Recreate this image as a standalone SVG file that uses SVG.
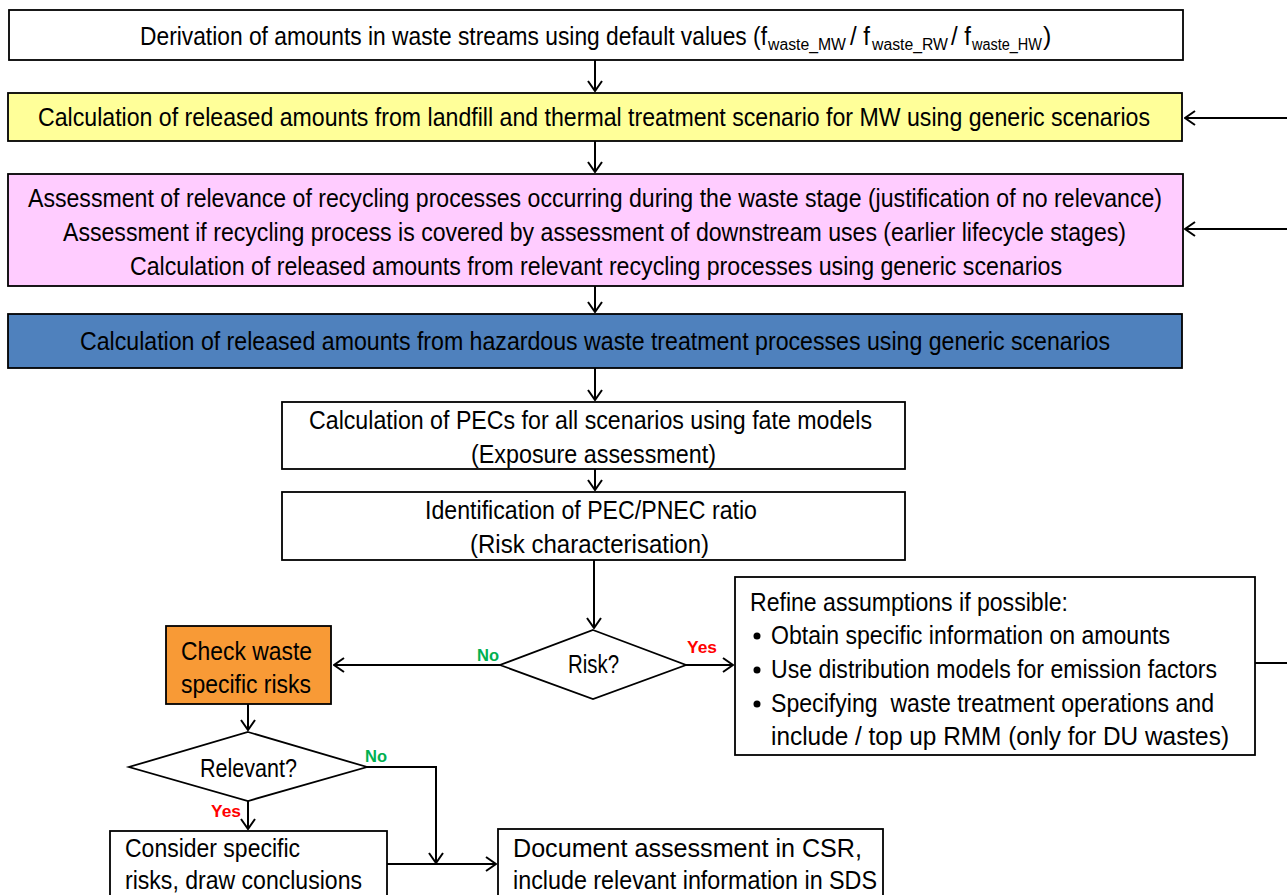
<svg xmlns="http://www.w3.org/2000/svg" width="1287" height="895" viewBox="0 0 1287 895">
<style>
.box{stroke:#000;stroke-width:1.8;}
.t{font-family:"Liberation Sans",Arial,sans-serif;font-size:25px;fill:#000;}
.sub{font-size:16px;}
.lbl{font-family:"Liberation Sans",Arial,sans-serif;font-size:17px;font-weight:bold;}
.no{fill:#00B050;}
.yes{fill:#FF0000;}
.conn{stroke:#000;stroke-width:2;fill:none;}
</style>
<defs>
<marker id="arr" markerUnits="userSpaceOnUse" viewBox="0 0 12 16" refX="11" refY="8" markerWidth="12" markerHeight="16" orient="auto">
<path d="M1,1 L11,8 L1,15" fill="none" stroke="#000" stroke-width="2"/>
</marker>
</defs>
<rect width="1287" height="895" fill="#fff"/>

<g id="connectors">
<line class="conn" x1="595" y1="60" x2="595" y2="91" marker-end="url(#arr)"/>
<line class="conn" x1="595" y1="141" x2="595" y2="172" marker-end="url(#arr)"/>
<line class="conn" x1="595" y1="286" x2="595" y2="312" marker-end="url(#arr)"/>
<line class="conn" x1="595" y1="368" x2="595" y2="400" marker-end="url(#arr)"/>
<line class="conn" x1="595" y1="469" x2="595" y2="490" marker-end="url(#arr)"/>
<line class="conn" x1="594" y1="560" x2="594" y2="628" marker-end="url(#arr)"/>
<line class="conn" x1="1287" y1="118" x2="1185" y2="118" marker-end="url(#arr)"/>
<line class="conn" x1="1287" y1="229" x2="1185" y2="229" marker-end="url(#arr)"/>
<line class="conn" x1="1255" y1="663" x2="1287" y2="663"/>
<line class="conn" x1="500" y1="665" x2="334" y2="665" marker-end="url(#arr)"/>
<line class="conn" x1="686" y1="665" x2="733" y2="665" marker-end="url(#arr)"/>
<line class="conn" x1="248" y1="704" x2="248" y2="730" marker-end="url(#arr)"/>
<polyline class="conn" points="367,767 436,767 436,863" marker-end="url(#arr)"/>
<line class="conn" x1="248" y1="801" x2="248" y2="829" marker-end="url(#arr)"/>
<line class="conn" x1="387" y1="864" x2="496" y2="864" marker-end="url(#arr)"/>
<text class="lbl no" x="477" y="661" textLength="22" lengthAdjust="spacingAndGlyphs">No</text>
<text class="lbl yes" x="687" y="653" textLength="30" lengthAdjust="spacingAndGlyphs">Yes</text>
<text class="lbl no" x="365" y="762" textLength="22" lengthAdjust="spacingAndGlyphs">No</text>
<text class="lbl yes" x="211" y="817" textLength="30" lengthAdjust="spacingAndGlyphs">Yes</text>
</g>

<g id="n1">
<rect class="box" x="9" y="10" width="1174" height="50" fill="#fff"/>
<text class="t"><tspan x="140" y="45" textLength="627" lengthAdjust="spacingAndGlyphs">Derivation of amounts in waste streams using default values (f</tspan><tspan class="sub" x="768" y="50" textLength="78" lengthAdjust="spacingAndGlyphs">waste_MW</tspan><tspan x="850" y="45" textLength="20" lengthAdjust="spacingAndGlyphs">/ f</tspan><tspan class="sub" x="872" y="50" textLength="76" lengthAdjust="spacingAndGlyphs">waste_RW</tspan><tspan x="951" y="45" textLength="20" lengthAdjust="spacingAndGlyphs">/ f</tspan><tspan class="sub" x="972" y="50" textLength="70" lengthAdjust="spacingAndGlyphs">waste_HW</tspan><tspan x="1043" y="45">)</tspan></text>
</g>

<g id="n2">
<rect class="box" x="8" y="93" width="1174" height="48" fill="#FFFF99"/>
<text class="t" x="38" y="126" textLength="1112" lengthAdjust="spacingAndGlyphs">Calculation of released amounts from landfill and thermal treatment scenario for MW using generic scenarios</text>
</g>

<g id="n3">
<rect class="box" x="8" y="174" width="1175" height="112" fill="#FFCCFF"/>
<text class="t" x="28" y="207" textLength="1134" lengthAdjust="spacingAndGlyphs">Assessment of relevance of recycling processes occurring during the waste stage (justification of no relevance)</text>
<text class="t" x="63" y="241" textLength="1063" lengthAdjust="spacingAndGlyphs">Assessment if recycling process is covered by assessment of downstream uses (earlier lifecycle stages)</text>
<text class="t" x="130" y="275" textLength="932" lengthAdjust="spacingAndGlyphs">Calculation of released amounts from relevant recycling processes using generic scenarios</text>
</g>

<g id="n4">
<rect class="box" x="8" y="314" width="1174" height="54" fill="#4F81BD"/>
<text class="t" x="80" y="350" textLength="1030" lengthAdjust="spacingAndGlyphs">Calculation of released amounts from hazardous waste treatment processes using generic scenarios</text>
</g>

<g id="n5">
<rect class="box" x="282" y="402" width="623" height="67" fill="#fff"/>
<text class="t" x="309" y="429" textLength="563" lengthAdjust="spacingAndGlyphs">Calculation of PECs for all scenarios using fate models</text>
<text class="t" x="471" y="463" textLength="245" lengthAdjust="spacingAndGlyphs">(Exposure assessment)</text>
</g>

<g id="n6">
<rect class="box" x="282" y="492" width="623" height="68" fill="#fff"/>
<text class="t" x="425" y="519" textLength="332" lengthAdjust="spacingAndGlyphs">Identification of PEC/PNEC ratio</text>
<text class="t" x="470" y="553" textLength="239" lengthAdjust="spacingAndGlyphs">(Risk characterisation)</text>
</g>

<g id="n7">
<polygon class="box" points="593,630 686,665 593,699 500,665" fill="#fff"/>
<text class="t" x="568" y="673" textLength="51" lengthAdjust="spacingAndGlyphs">Risk?</text>
</g>

<g id="n8">
<rect class="box" x="735" y="577" width="520" height="178" fill="#fff"/>
<text class="t" x="750" y="611" textLength="318" lengthAdjust="spacingAndGlyphs">Refine assumptions if possible:</text>
<circle cx="757" cy="636" r="3.5" fill="#000"/>
<text class="t" x="771" y="644" textLength="399" lengthAdjust="spacingAndGlyphs">Obtain specific information on amounts</text>
<circle cx="757" cy="670" r="3.5" fill="#000"/>
<text class="t" x="771" y="678" textLength="446" lengthAdjust="spacingAndGlyphs">Use distribution models for emission factors</text>
<circle cx="757" cy="704" r="3.5" fill="#000"/>
<text class="t" x="771" y="712" textLength="443" lengthAdjust="spacingAndGlyphs" xml:space="preserve">Specifying  waste treatment operations and</text>
<text class="t" x="771" y="745" textLength="458" lengthAdjust="spacingAndGlyphs">include / top up RMM (only for DU wastes)</text>
</g>

<g id="n9">
<rect class="box" x="166" y="626" width="165" height="78" fill="#F89A36"/>
<text class="t" x="181" y="660" textLength="131" lengthAdjust="spacingAndGlyphs">Check waste</text>
<text class="t" x="181" y="693" textLength="130" lengthAdjust="spacingAndGlyphs">specific risks</text>
</g>

<g id="n10">
<polygon class="box" points="248,732 367,767 248,801 129,767" fill="#fff"/>
<text class="t" x="200" y="777" textLength="97" lengthAdjust="spacingAndGlyphs">Relevant?</text>
</g>

<g id="n11">
<rect class="box" x="110" y="831" width="277" height="80" fill="#fff"/>
<text class="t" x="125" y="857" textLength="175" lengthAdjust="spacingAndGlyphs">Consider specific</text>
<text class="t" x="125" y="889" textLength="237" lengthAdjust="spacingAndGlyphs">risks, draw conclusions</text>
</g>

<g id="n12">
<rect class="box" x="498" y="829" width="385" height="80" fill="#fff"/>
<text class="t" x="513" y="857" textLength="349" lengthAdjust="spacingAndGlyphs">Document assessment in CSR,</text>
<text class="t" x="513" y="889" textLength="364" lengthAdjust="spacingAndGlyphs">include relevant information in SDS</text>
</g>
</svg>
